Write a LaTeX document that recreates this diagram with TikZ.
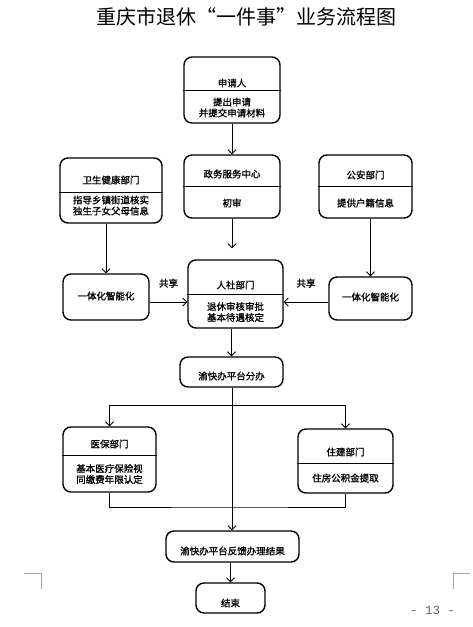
\documentclass[tikz,border=0pt]{standalone}
\usepackage{fontspec}
\setmainfont{Noto Sans CJK SC}[BoldFont=Noto Sans CJK SC, BoldFeatures={FakeBold=1.2}]
\newfontfamily\pagefont{Liberation Mono}
\usepackage{tikz}
\usetikzlibrary{arrows.meta}

\begin{document}
\begin{tikzpicture}[x=1pt, y=-1pt,
    box/.style={draw, line width=1.4pt, rounded corners=8pt, inner sep=0pt},
    txt/.style={inner sep=0pt, align=center, font=\fontsize{9.5}{11}\selectfont\bfseries},
    lbl/.style={txt, above=14pt},
    arr/.style={line width=0.9pt, -{Straight Barb[length=4pt, width=8pt]}},
    wire/.style={line width=0.9pt},
    divline/.style={line width=0.8pt},
    crop/.style={line width=0.7pt, black!35}]
    \useasboundingbox (0, 0) rectangle (473, 627);

    \node[font=\fontsize{20}{24}\selectfont] (title) at (246, 17) {重庆市退休“一件事”业务流程图};

    % boxes
    \node[box, minimum width=96pt, minimum height=66pt] (apply) at (232, 90) {};
    \node[box, minimum width=96pt, minimum height=63pt] (centre) at (232, 186.5) {};
    \node[box, minimum width=102pt, minimum height=65pt] (health) at (111, 190.5) {};
    \node[box, minimum width=93pt, minimum height=63pt] (police) at (365.5, 186.5) {};
    \node[box, minimum width=86pt, minimum height=46pt] (intl) at (106, 297) {};
    \node[box, minimum width=83pt, minimum height=43pt] (intr) at (370.5, 298.5) {};
    \node[box, minimum width=95pt, minimum height=68pt] (hrss) at (235.5, 294) {};
    \node[box, minimum width=103pt, minimum height=30pt] (dispatch) at (231.5, 372) {};
    \node[box, minimum width=93pt, minimum height=65pt] (medical) at (109.5, 459.5) {};
    \node[box, minimum width=95pt, minimum height=64pt] (housing) at (345.5, 461) {};
    \node[box, minimum width=133pt, minimum height=31pt] (feedback) at (232.5, 546.5) {};
    \node[box, minimum width=69pt, minimum height=30pt] (finish) at (230.5, 598) {};

    % dividers
    \draw[divline] (apply.west) -- (apply.east);
    \draw[divline] (centre.west) -- (centre.east);
    \draw[divline] ([yshift=-1.5pt]health.west) -- ([yshift=-1.5pt]health.east);
    \draw[divline] (police.west) -- (police.east);
    \draw[divline] (hrss.west) -- (hrss.east);
    \draw[divline] ([yshift=4.5pt]medical.west) -- ([yshift=4.5pt]medical.east);
    \draw[divline] ([yshift=-2pt]housing.west) -- ([yshift=-2pt]housing.east);

    % texts
    \node[txt] (applyhead) at (232, 83) {申请人};
    \node[txt] (applybody) at (232, 107.5) {提出申请\\并提交申请材料};
    \node[txt] (centrehead) at (232, 174) {政务服务中心};
    \node[txt] (centrebody) at (232, 203) {初审};
    \node[txt] (healthhead) at (111, 180) {卫生健康部门};
    \node[txt] (healthbody) at (111, 205.5) {指导乡镇街道核实\\独生子女父母信息};
    \node[txt] (policehead) at (365.5, 175) {公安部门};
    \node[txt] (policebody) at (365.5, 203) {提供户籍信息};
    \node[txt] (intltext) at (106, 296) {一体化智能化};
    \node[txt] (intrtext) at (370.5, 297) {一体化智能化};
    \node[txt] (hrsshead) at (235.5, 285) {人社部门};
    \node[txt] (hrssbody) at (235.5, 312) {退休审核审批\\基本待遇核定};
    \node[txt] (dispatchtext) at (231.5, 376) {渝快办平台分办};
    \node[txt] (medicalhead) at (109.5, 444) {医保部门};
    \node[txt] (medicalbody) at (109.5, 474) {基本医疗保险视\\同缴费年限认定};
    \node[txt] (housinghead) at (345.5, 452) {住建部门};
    \node[txt] (housingbody) at (345.5, 478) {住房公积金提取};
    \node[txt] (feedbacktext) at (232.5, 551) {渝快办平台反馈办理结果};
    \node[txt] (finishtext) at (230.5, 603) {结束};

    % connectors
    \coordinate (fork) at (232, 405);
    \coordinate (join) at (232, 507);

    \draw[arr] (apply) -- (centre);
    \draw[arr, shorten >=11pt] (centre) -- (centre.south |- hrss.north);
    \draw[arr] (health.south -| intl.north) -- (intl.north);
    \draw[arr] (police.south -| intr.north) -- (intr.north);
    \draw[arr] ([yshift=-5pt]intl.east) -- node[lbl] {共享} ([yshift=-5pt]intl.east -| hrss.west);
    \draw[arr] ([yshift=-3.5pt]intr.west) -- node[lbl] {共享} ([yshift=-3.5pt]intr.west -| hrss.east);
    \draw[arr] (dispatch.north |- hrss.south) -- (dispatch.north);
    \draw[wire] (dispatch.south -| fork) -- (fork);
    \draw[arr] (fork) -| (medical.north);
    \draw[arr] (fork) -| (housing.north);
    \draw[arr] (fork) -- (fork |- feedback.north);
    \draw[wire] (medical.south) |- (join) -| (housing.south);
    \draw[arr] (feedback.south -| finish.north) -- (finish.north);

    % page marks
    \draw[crop] (24, 573) -- (41, 573) -- (41, 589);
    \draw[crop] (453, 589) -- (453, 573) -- (470, 573);
    \node[font=\pagefont\fontsize{12.5}{14}\selectfont, text=black!60] (pageno) at (432.5, 610) {- 13 -};
\end{tikzpicture}
\end{document}
